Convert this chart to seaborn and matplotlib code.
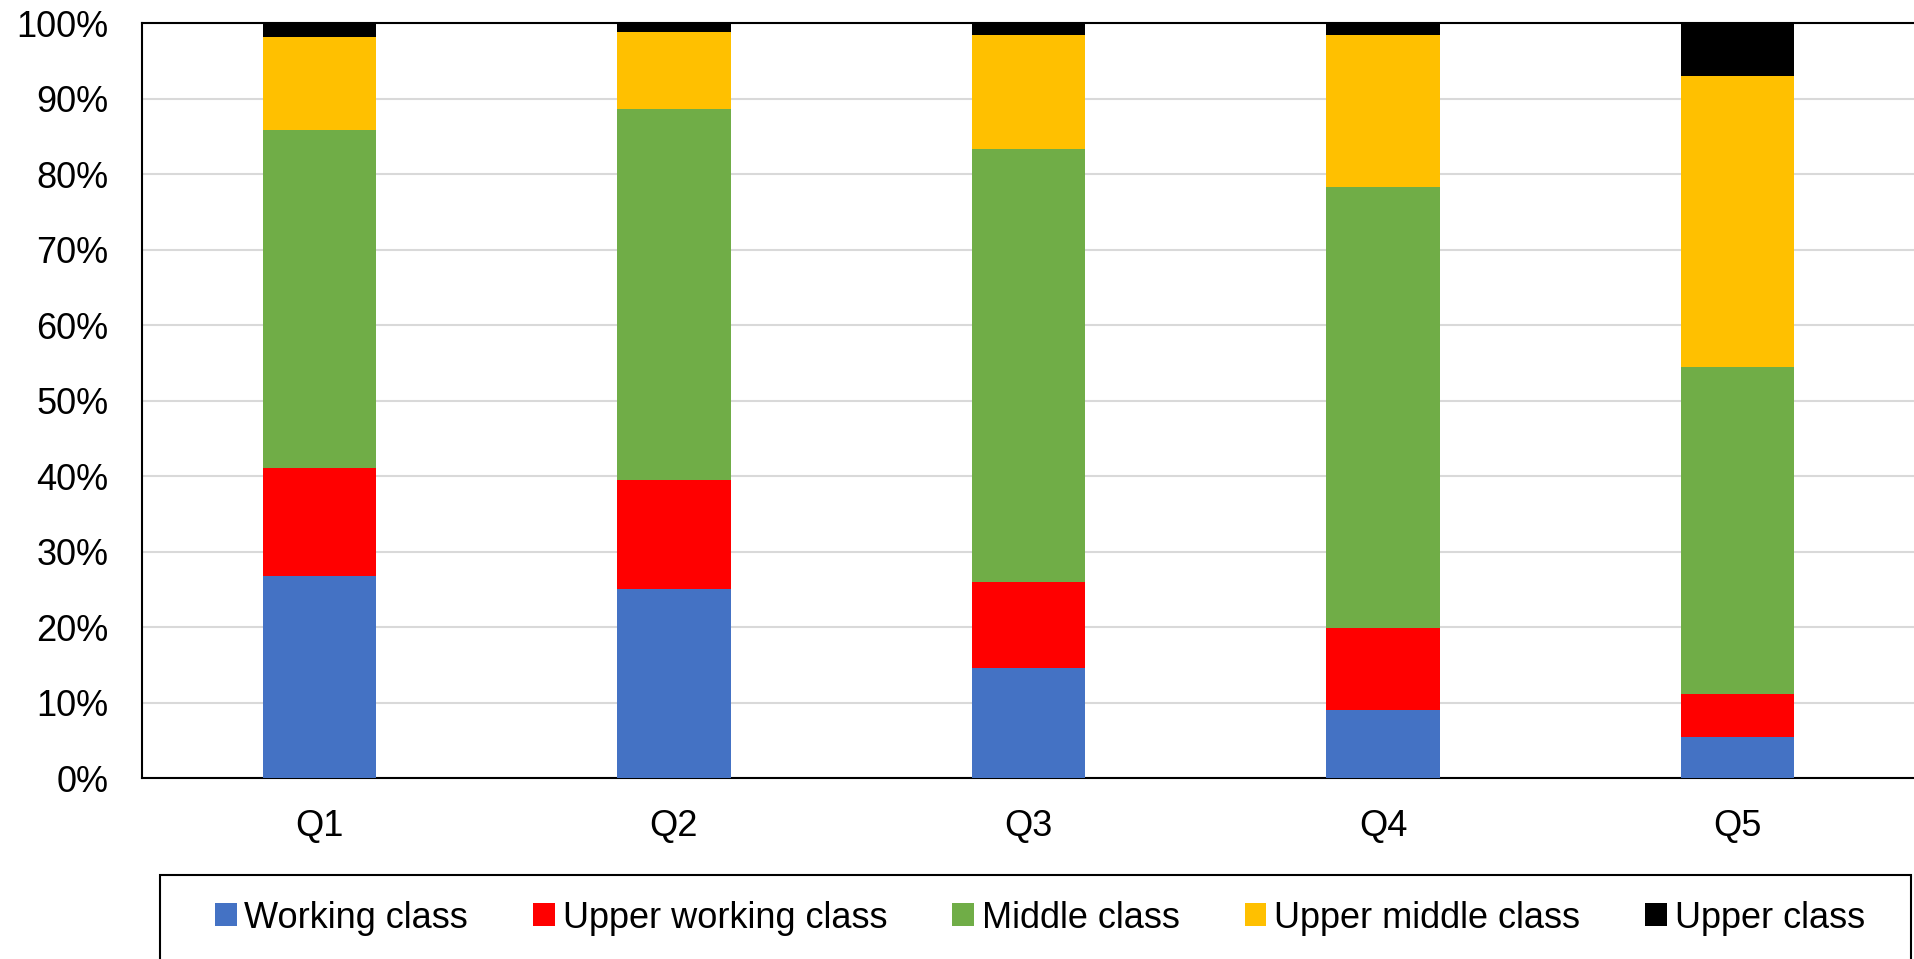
import matplotlib
matplotlib.use("Agg")
import matplotlib.pyplot as plt
from matplotlib.patches import Patch, Rectangle
import seaborn as sns
import numpy as np
import pandas as pd

quintiles = ["Q1", "Q2", "Q3", "Q4", "Q5"]
classes = ["Working class", "Upper working class", "Middle class",
           "Upper middle class", "Upper class"]
working = [26.8, 25.1, 14.6, 9.0, 5.4]
upper_working = [14.3, 14.4, 11.4, 10.9, 5.7]
middle = [44.8, 49.2, 57.4, 58.4, 43.4]
upper_middle = [12.3, 10.1, 15.0, 20.2, 38.5]
upper = [1.8, 1.2, 1.6, 1.5, 7.0]
y_ticks = [0, 10, 20, 30, 40, 50, 60, 70, 80, 90, 100]

colors = ["#4472C4", "#FF0000", "#70AD47", "#FFC000", "#000000"]

sns.set_theme(style="white")
plt.rcParams["font.family"] = ["Liberation Sans", "DejaVu Sans"]
plt.rcParams["text.color"] = "black"

series = [working, upper_working, middle, upper_middle, upper]
df = pd.DataFrame({name: vals for name, vals in zip(classes, series)}, index=quintiles)
cum = df.cumsum(axis=1)

fig = plt.figure(figsize=(19.15, 9.59), dpi=100)
W, H = 1915, 959
ax = fig.add_axes([142 / W, (H - 778) / H, (W - 142) / W + 0.01, (778 - 23.3) / H])

# stacked bars: draw cumulative totals from the top layer down
for name, color in reversed(list(zip(classes, colors))):
    sns.barplot(x=quintiles, y=cum[name].values, color=color, width=0.32,
                saturation=1, linewidth=0, ax=ax, zorder=3)

ax.set_ylim(0, 100)
ax.set_xlim(-0.5, 4.5 + 0.01 * W / (W - 142) * 5)
ax.set_yticks(y_ticks)
ax.set_yticklabels([f"{t}%" for t in y_ticks])
ax.yaxis.grid(True, color="#d9d9d9", linewidth=1.5, zorder=0)
ax.set_axisbelow(True)
ax.tick_params(axis="both", length=0, labelsize=26, colors="black")
ax.tick_params(axis="y", pad=24)
ax.tick_params(axis="x", pad=22)
ax.set_xlabel("")
ax.set_ylabel("")
for side in ["left", "top", "bottom"]:
    ax.spines[side].set_color("black")
    ax.spines[side].set_linewidth(1.5)
    ax.spines[side].set_visible(True)
ax.spines["right"].set_visible(False)

# legend frame spanning below the plot
fig.patches.append(Rectangle((160 / W, -0.01), (1911 - 160) / W, (H - 875) / H + 0.01,
                             transform=fig.transFigure, facecolor="white",
                             edgecolor="black", linewidth=1.5))
handles = [Patch(facecolor=c, edgecolor="none", label=n) for n, c in zip(classes, colors)]
leg = fig.legend(handles=handles, loc="center", bbox_to_anchor=(1040 / W, (H - 918) / H),
                 ncol=5, frameon=False, fontsize=26, handlelength=0.6, handleheight=0.6,
                 handletextpad=0.22, columnspacing=1.8, borderpad=0)
for t in leg.get_texts():
    t.set_color("black")

fig.savefig("out.png", dpi=100)
